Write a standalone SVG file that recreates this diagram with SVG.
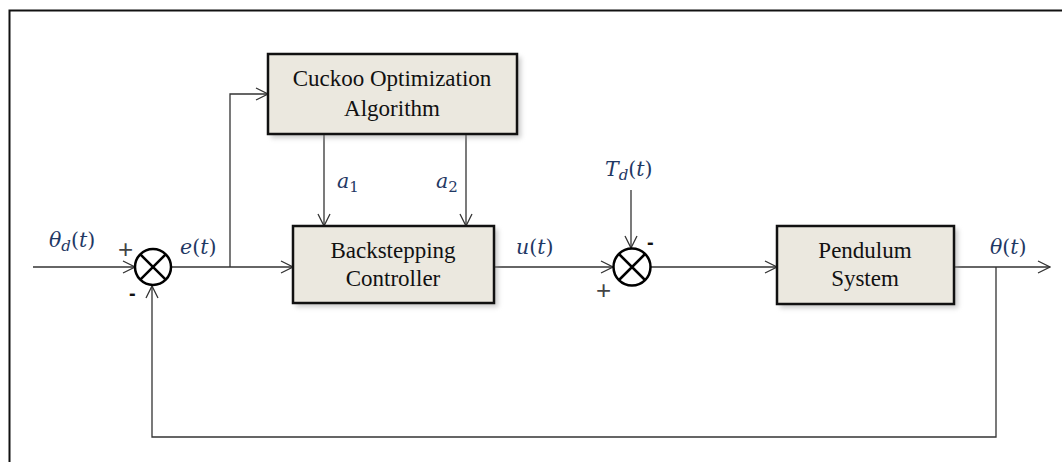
<svg xmlns="http://www.w3.org/2000/svg" width="1062" height="462" viewBox="0 0 1062 462">
<style>
.box{fill:#ebe8df;stroke:#111;stroke-width:2.5}
.sh{fill:#999;opacity:0.5}
.ln{fill:none;stroke:#333;stroke-width:1.3}
.sum{fill:#fff;stroke:#000;stroke-width:2.5}
.x{stroke:#000;stroke-width:2.5}
.bt{font-family:"Liberation Serif",serif;font-size:23px;fill:#111;text-anchor:middle}
.m{font-family:"DejaVu Serif","Liberation Serif",serif;font-style:italic;font-size:20.5px;fill:#1f3864}
.s{font-family:"Liberation Sans",sans-serif;font-size:20px;fill:#111}
.p{font-family:"Liberation Sans",sans-serif;font-size:26px;fill:#444}
</style>
<defs>
<filter id="blur" x="-10%" y="-10%" width="130%" height="130%"><feGaussianBlur stdDeviation="2.5"/></filter>
<marker id="ar" markerWidth="14" markerHeight="14" refX="13" refY="7" orient="auto" markerUnits="userSpaceOnUse">
<path d="M1,1 L13,7 L1,13" fill="none" stroke="#333" stroke-width="1.3"/>
</marker>
</defs>
<rect width="1062" height="462" fill="#fff"/>
<path d="M9.5,462 V10.5 H1062" fill="none" stroke="#111" stroke-width="2"/>
<g id="connectors">
<path class="ln" d="M33,267 H135" marker-end="url(#ar)"/>
<path class="ln" d="M171,267 H293" marker-end="url(#ar)"/>
<path class="ln" d="M230,267 V94 H268" marker-end="url(#ar)"/>
<path class="ln" d="M324,134 V226" marker-end="url(#ar)"/>
<path class="ln" d="M466,134 V226" marker-end="url(#ar)"/>
<path class="ln" d="M494,267 H613" marker-end="url(#ar)"/>
<path class="ln" d="M631,190 V248" marker-end="url(#ar)"/>
<path class="ln" d="M651,267 H777" marker-end="url(#ar)"/>
<path class="ln" d="M954,267 H1050" marker-end="url(#ar)"/>
<path class="ln" d="M996,267 V437 H152 V286" marker-end="url(#ar)"/>
</g>
<g id="sum1">
<circle class="sum" cx="153" cy="267" r="18"/>
<path class="x" d="M140.3,254.3 L165.7,279.7 M165.7,254.3 L140.3,279.7"/>
<text class="p" x="118" y="258">+</text>
<text class="s" x="129" y="300" font-weight="bold">-</text>
</g>
<g id="sum2">
<circle class="sum" cx="632" cy="267" r="18.5"/>
<path class="x" d="M619,254 L645,280 M645,254 L619,280"/>
<text class="s" x="647" y="249" font-weight="bold">-</text>
<text class="p" x="596" y="299">+</text>
</g>
<g id="cuckoo">
<rect class="sh" x="271" y="57" width="250" height="81" filter="url(#blur)"/>
<rect class="box" x="268" y="54" width="249" height="80"/>
<text class="bt" x="392" y="86">Cuckoo Optimization</text>
<text class="bt" x="392" y="116">Algorithm</text>
</g>
<g id="backstepping">
<rect class="sh" x="296" y="229" width="202" height="78" filter="url(#blur)"/>
<rect class="box" x="293" y="226" width="201" height="77"/>
<text class="bt" x="393" y="258">Backstepping</text>
<text class="bt" x="393" y="286">Controller</text>
</g>
<g id="pendulum">
<rect class="sh" x="780" y="229" width="178" height="79" filter="url(#blur)"/>
<rect class="box" x="777" y="226" width="177" height="78"/>
<text class="bt" x="865" y="258">Pendulum</text>
<text class="bt" x="865" y="286">System</text>
</g>
<g id="labels">
<text class="m" x="49" y="247">θ<tspan font-size="15" dy="4">d</tspan><tspan dy="-4" font-style="normal">(</tspan>t<tspan font-style="normal">)</tspan></text>
<text class="m" x="180" y="254">e<tspan font-style="normal">(</tspan>t<tspan font-style="normal">)</tspan></text>
<text class="m" x="337" y="188">a<tspan font-size="15" dy="4" font-style="normal">1</tspan></text>
<text class="m" x="436" y="188">a<tspan font-size="15" dy="4" font-style="normal">2</tspan></text>
<text class="m" x="605" y="176">T<tspan font-size="15" dy="4">d</tspan><tspan dy="-4" font-style="normal">(</tspan>t<tspan font-style="normal">)</tspan></text>
<text class="m" x="516" y="254">u<tspan font-style="normal">(</tspan>t<tspan font-style="normal">)</tspan></text>
<text class="m" x="990" y="254">θ<tspan font-style="normal">(</tspan>t<tspan font-style="normal">)</tspan></text>
</g>
</svg>
